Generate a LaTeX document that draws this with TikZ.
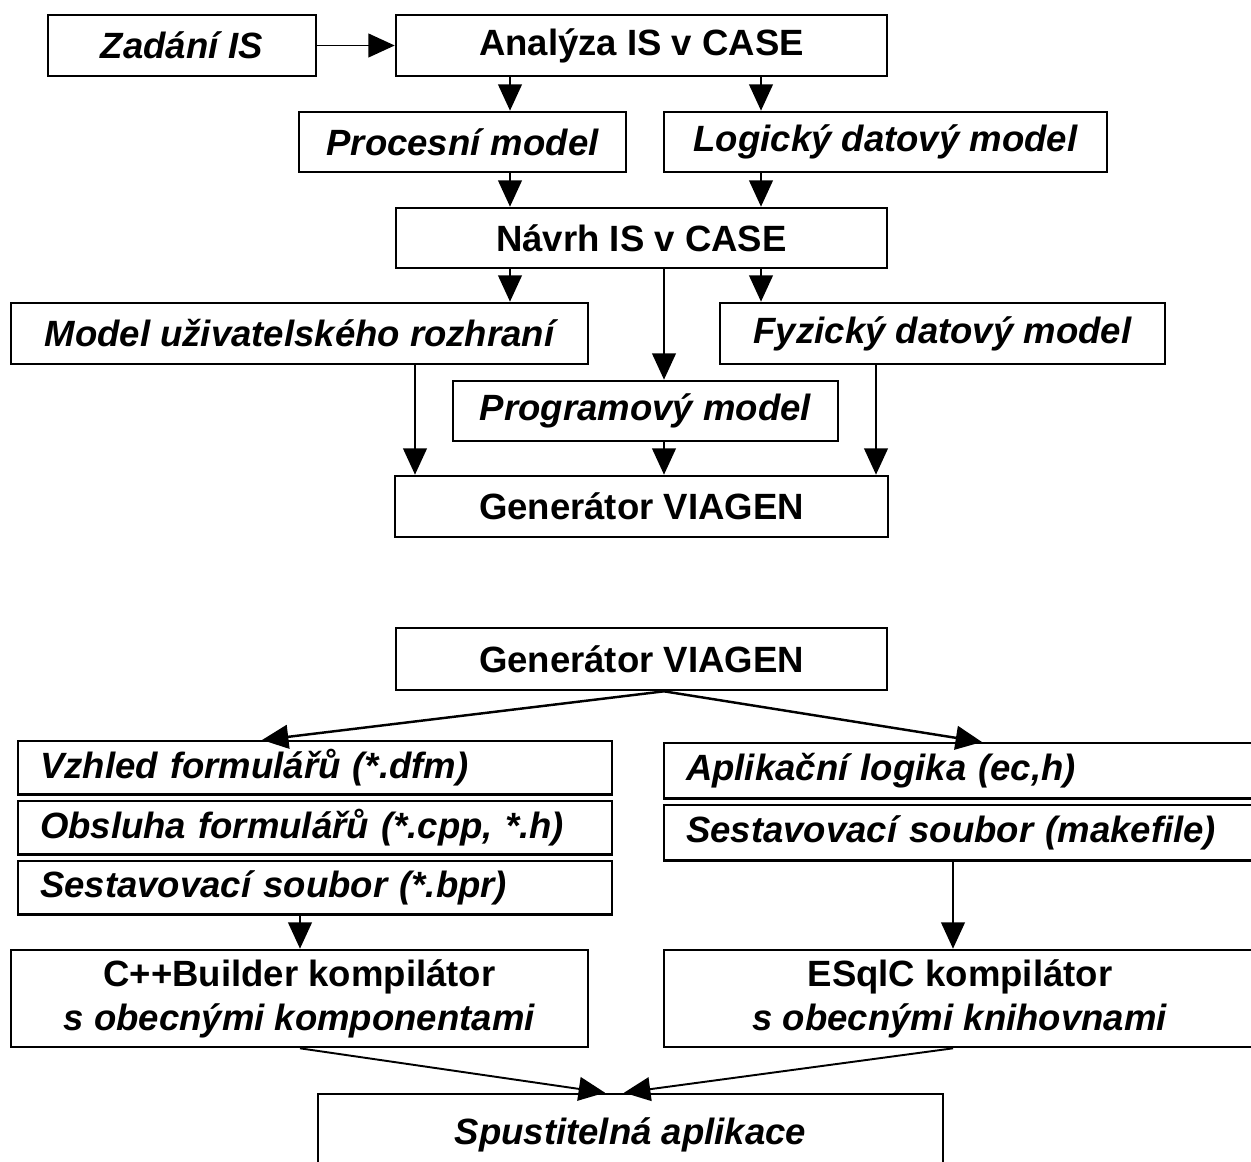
\documentclass[tikz,border=0pt]{standalone}
\usepackage{fontspec}
\setmainfont{Liberation Sans}
\usetikzlibrary{arrows.meta,positioning}

\tikzset{
  box/.style={draw, line width=1.5pt, inner sep=0pt, align=center,
    font=\bfseries\fontsize{20.8}{25}\selectfont},
  ibox/.style={box, font=\bfseries\itshape\fontsize{20.8}{25}\selectfont},
  stackrow/.style={draw, line width=1.4pt, inner xsep=0.44cm, inner ysep=0pt,
    align=left, font=\bfseries\itshape\fontsize{20.8}{25}\selectfont},
  arr/.style={line width=1.1pt, -{Triangle[length=15pt,width=13.5pt]}},
}

\begin{document}
\begin{tikzpicture}[x=0.02cm, y=-0.02cm]
  \clip (0,0) rectangle (1251,1162);
  % --- analysis and design ---
  \node[ibox, minimum width=5.36cm, minimum height=1.22cm] (zadani) at (182,45.5) {Zadání IS};
  \node[box, minimum width=9.82cm, minimum height=1.22cm] (analyza) at (641.5,45.5) {Analýza IS v CASE};
  \node[ibox, minimum width=6.54cm, minimum height=1.2cm] (procesni) at (462.5,142) {Procesní model};
  \node[ibox, minimum width=8.86cm, minimum height=1.2cm] (logicky) at (885.5,142) {Logický datový model};
  \node[box, minimum width=9.82cm, minimum height=1.2cm] (navrh) at (641.5,238) {Návrh IS v CASE};
  \node[ibox, minimum width=11.54cm, minimum height=1.22cm] (model) at (299.5,333.5) {Model uživatelského rozhraní};
  \node[ibox, minimum width=8.9cm, minimum height=1.22cm] (fyzicky) at (942.5,333.5) {Fyzický datový model};
  \node[ibox, minimum width=7.7cm, minimum height=1.2cm] (program) at (645.5,411) {Programový model};
  \node[box, minimum width=9.86cm, minimum height=1.22cm] (gen) at (641.5,506.5) {Generátor VIAGEN};

  \draw[arr] (zadani) -- (analyza);
  \foreach \xa/\src/\dst in {510/analyza/procesni, 761/analyza/logicky,
      510/procesni/navrh, 761/logicky/navrh,
      510/navrh/model, 664/navrh/program, 761/navrh/fyzicky,
      415/model/gen, 664/program/gen, 876/fyzicky/gen}
    \draw[arr] (\src.south -| \xa,0) -- (\dst.north -| \xa,0);

  % --- generation and compilation ---
  \node[box, minimum width=9.82cm, minimum height=1.24cm] (gen2) at (641.5,659) {Generátor VIAGEN};

  % stacked output files (double separators come from the small gaps)
  \node[stackrow, text width=11cm, minimum height=1.07cm, anchor=north] (vzhled) at (315,740) {Vzhled formulářů (*.dfm)};
  \node[stackrow, text width=11cm, minimum height=1.07cm, below=0.08cm of vzhled] (obsluha) {Obsluha formulářů (*.cpp, *.h)};
  \node[stackrow, text width=11cm, minimum height=1.07cm, below=0.08cm of obsluha] (bpr) {Sestavovací soubor (*.bpr)};
  \node[stackrow, text width=10.96cm, minimum height=1.11cm, anchor=north] (aplik) at (960,742) {Aplikační logika (ec,h)};
  \node[stackrow, text width=10.96cm, minimum height=1.11cm, below=0.08cm of aplik] (makef) {Sestavovací soubor (makefile)};

  \node[box, minimum width=11.54cm, minimum height=1.94cm] (cpp) at (299.5,998.5) {C++Builder kompilátor\\\textit{s obecnými komponentami}};
  \node[box, minimum width=11.84cm, minimum height=1.94cm] (esqlc) at (960,998.5) {ESqlC kompilátor\\\textit{s obecnými knihovnami}};
  \node[ibox, minimum width=12.5cm, minimum height=1.64cm] (spust) at (630.5,1135) {Spustitelná aplikace};

  \coordinate (split) at (gen2.south -| 664,0);
  \draw[arr, line width=1.4pt] (split) -- (vzhled.north -| 262,0);
  \draw[arr, line width=1.4pt] (split) -- (aplik.north -| 982,0);
  \draw[arr] (bpr.south -| 300,0) -- (cpp.north -| 300,0);
  \draw[arr] (makef.south -| 953,0) -- (esqlc.north -| 953,0);
  \draw[arr] (cpp.south -| 300,0) -- (spust.north -| 605,0);
  \draw[arr] (esqlc.south -| 953,0) -- (spust.north -| 624,0);
\end{tikzpicture}
\end{document}
